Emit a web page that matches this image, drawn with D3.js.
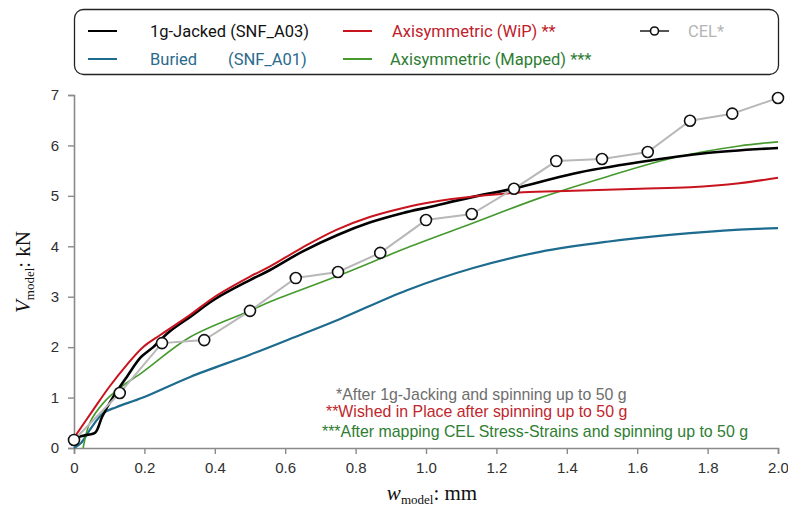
<!DOCTYPE html>
<html>
<head>
<meta charset="utf-8">
<script src="https://cdn.jsdelivr.net/npm/d3@7"></script>
<style>
  body { margin: 0; background: #fff; }
  svg { display: block; }
</style>
</head>
<body>
<svg id="chart" width="788" height="508"></svg>
<script>
// series (w in mm, V in kN)
var jackedW = [0, 0.036, 0.06, 0.08, 0.11, 0.15, 0.19, 0.225, 0.27, 0.33, 0.4, 0.5, 0.557, 0.65, 0.747, 0.84, 0.935, 1.01, 1.134, 1.253, 1.418, 1.608, 1.798, 2.0];
var jackedV = [0.2, 0.26, 0.3, 0.62, 1.0, 1.41, 1.8, 2.0, 2.3, 2.6, 2.95, 3.33, 3.53, 3.9, 4.22, 4.47, 4.66, 4.78, 4.98, 5.15, 5.44, 5.67, 5.85, 5.95];

var wipW = [0, 0.054, 0.10, 0.15, 0.196, 0.245, 0.33, 0.4, 0.5, 0.557, 0.65, 0.747, 0.84, 0.935, 1.01, 1.153, 1.276, 1.418, 1.608, 1.75, 1.89, 2.0];
var wipV = [0.2, 0.75, 1.21, 1.65, 2.0, 2.24, 2.64, 3.0, 3.4, 3.6, 3.98, 4.33, 4.58, 4.76, 4.87, 5.0, 5.07, 5.1, 5.14, 5.17, 5.25, 5.36];

var buriedW = [0, 0.02, 0.045, 0.083, 0.12, 0.196, 0.33, 0.5, 0.62, 0.756, 0.946, 1.134, 1.324, 1.514, 1.70, 1.89, 2.0];
var buriedV = [0, 0.1, 0.36, 0.69, 0.81, 1.0, 1.41, 1.85, 2.18, 2.56, 3.13, 3.57, 3.89, 4.09, 4.23, 4.33, 4.36];

var mappedW = [0.026, 0.045, 0.083, 0.13, 0.196, 0.33, 0.5, 0.557, 0.756, 0.946, 1.134, 1.324, 1.514, 1.70, 1.89, 2.0];
var mappedV = [0, 0.5, 0.89, 1.19, 1.51, 2.2, 2.72, 2.9, 3.43, 3.97, 4.46, 4.96, 5.38, 5.75, 5.99, 6.07];

var celW = [0, 0.13, 0.25, 0.37, 0.5, 0.63, 0.75, 0.87, 1.0, 1.13, 1.25, 1.37, 1.5, 1.63, 1.75, 1.87, 2.0];
var celV = [0.16, 1.09, 2.08, 2.14, 2.72, 3.37, 3.49, 3.87, 4.52, 4.64, 5.14, 5.69, 5.73, 5.87, 6.49, 6.63, 6.94];

var xTicks = [0, 0.2, 0.4, 0.6, 0.8, 1.0, 1.2, 1.4, 1.6, 1.8, 2.0];
var yTicks = [0, 1, 2, 3, 4, 5, 6, 7];

var notes = [
  { text: '*After 1g-Jacking and spinning up to 50 g', color: '#6e6e6e', x: 336, y: 400 },
  { text: '**Wished in Place after spinning up to 50 g', color: '#c0262c', x: 326, y: 417 },
  { text: '***After mapping CEL Stress-Strains and spinning up to 50 g', color: '#2e7d32', x: 322, y: 437 }
];

var svg = d3.select('#chart')
  , x = d3.scaleLinear().domain([0, 2]).range([74, 778])
  , y = d3.scaleLinear().domain([0, 7]).range([448, 95])
  , axisColor = '#8a8a8a'
  , tickFont = '"Liberation Sans", Arial, sans-serif'
;

var zip = function (xs, ys) {
  return xs.map(function (d, i) { return [d, ys[i]]; });
};

// axes
var gx = svg.append('g').attr('transform', 'translate(0,' + y(0) + ')')
  .call(d3.axisBottom(x).tickValues(xTicks).tickSize(6).tickPadding(8)
    .tickFormat(function (d) { return d === 0 ? '0' : d3.format('.1f')(d); }));
var gy = svg.append('g').attr('transform', 'translate(' + x(0) + ',0)')
  .call(d3.axisLeft(y).tickValues(yTicks).tickSize(6).tickPadding(9).tickFormat(d3.format('d')));

[gx, gy].forEach(function (g) {
  g.select('.domain').attr('stroke', axisColor).attr('stroke-width', 1.6);
  g.selectAll('.tick line').attr('stroke', axisColor).attr('stroke-width', 1.4);
  g.selectAll('.tick text').attr('fill', '#303030')
    .style('font-family', tickFont).style('font-size', '15px');
});

// curves
var line = d3.line()
  .x(function (d) { return x(d[0]); })
  .y(function (d) { return y(d[1]); })
  .curve(d3.curveCatmullRom.alpha(0.5));

var curves = [
  { data: zip(buriedW, buriedV), color: '#1d6b8e', width: 2.2 },
  { data: zip(mappedW, mappedV), color: '#459a2e', width: 1.6 },
  { data: zip(jackedW, jackedV), color: '#000000', width: 2.6 },
  { data: zip(wipW, wipV), color: '#c8141e', width: 2 }
];

svg.selectAll('path.curve').data(curves).enter()
  .append('path')
  .attr('class', 'curve')
  .attr('fill', 'none')
  .attr('stroke', function (d) { return d.color; })
  .attr('stroke-width', function (d) { return d.width; })
  .attr('d', function (d) { return line(d.data); });

var cel = zip(celW, celV);
svg.append('path')
  .attr('fill', 'none')
  .attr('stroke', '#b8b8b8')
  .attr('stroke-width', 2)
  .attr('d', d3.line().x(function (d) { return x(d[0]); }).y(function (d) { return y(d[1]); })(cel));

svg.selectAll('circle.cel').data(cel).enter()
  .append('circle')
  .attr('class', 'cel')
  .attr('cx', function (d) { return x(d[0]); })
  .attr('cy', function (d) { return y(d[1]); })
  .attr('r', 5.5)
  .attr('fill', '#fff')
  .attr('stroke', '#111')
  .attr('stroke-width', 1.6);

// footnotes
svg.selectAll('text.note').data(notes).enter()
  .append('text')
  .attr('class', 'note')
  .attr('x', function (d) { return d.x; })
  .attr('y', function (d) { return d.y; })
  .attr('fill', function (d) { return d.color; })
  .style('font-family', tickFont)
  .style('font-size', '15.9px')
  .text(function (d) { return d.text; });

// axis titles
var serif = '"Liberation Serif", "Times New Roman", serif';
var yt = svg.append('text')
  .attr('transform', 'translate(30,272) rotate(-90)')
  .attr('text-anchor', 'middle')
  .style('font-family', serif).style('font-size', '21px').attr('fill', '#111');
yt.append('tspan').style('font-style', 'italic').text('V');
yt.append('tspan').style('font-size', '13px').attr('dy', 4).text('model');
yt.append('tspan').attr('dy', -4).text(': kN');

var xt = svg.append('text')
  .attr('x', 432).attr('y', 500)
  .attr('text-anchor', 'middle')
  .style('font-family', serif).style('font-size', '21px').attr('fill', '#111');
xt.append('tspan').style('font-style', 'italic').text('w');
xt.append('tspan').style('font-size', '13px').attr('dy', 4).text('model');
xt.append('tspan').attr('dy', -4).text(': mm');

// legend
var legend = svg.append('g');
legend.append('rect')
  .attr('x', 74.5).attr('y', 9.5).attr('width', 704).attr('height', 65)
  .attr('rx', 9).attr('fill', '#fff').attr('stroke', '#222').attr('stroke-width', 1.3);

var legendItems = [
  { label: '1g-Jacked (SNF_A03)', color: '#000', text: '#111', lx: 88, tx: 150, ly: 31 },
  { label: 'Axisymmetric (WiP) **', color: '#c8141e', text: '#c0202a', lx: 343, tx: 392, ly: 31 },
  { label: 'CEL*', color: '#555', text: '#b4b4b4', lx: 640, tx: 688, ly: 31, marker: true },
  { label: 'Buried', color: '#1d6b8e', text: '#2a6a8c', lx: 88, tx: 150, ly: 59 },
  { label: '(SNF_A01)', color: null, text: '#2a6a8c', lx: 0, tx: 228, ly: 59 },
  { label: 'Axisymmetric (Mapped) ***', color: '#459a2e', text: '#2e7d32', lx: 343, tx: 390, ly: 59 }
];

legendItems.forEach(function (d) {
  if (d.color) {
    legend.append('line')
      .attr('x1', d.lx).attr('x2', d.lx + 29).attr('y1', d.ly).attr('y2', d.ly)
      .attr('stroke', d.color).attr('stroke-width', 2);
  }
  if (d.marker) {
    legend.append('circle').attr('cx', d.lx + 14.5).attr('cy', d.ly).attr('r', 4)
      .attr('fill', '#fff').attr('stroke', '#111').attr('stroke-width', 1.6);
  }
  legend.append('text')
    .attr('x', d.tx).attr('y', d.ly + 6)
    .attr('fill', d.text)
    .style('font-family', 'Roboto, sans-serif').style('font-size', '16.5px')
    .text(d.label);
});
</script>
</body>
</html>
